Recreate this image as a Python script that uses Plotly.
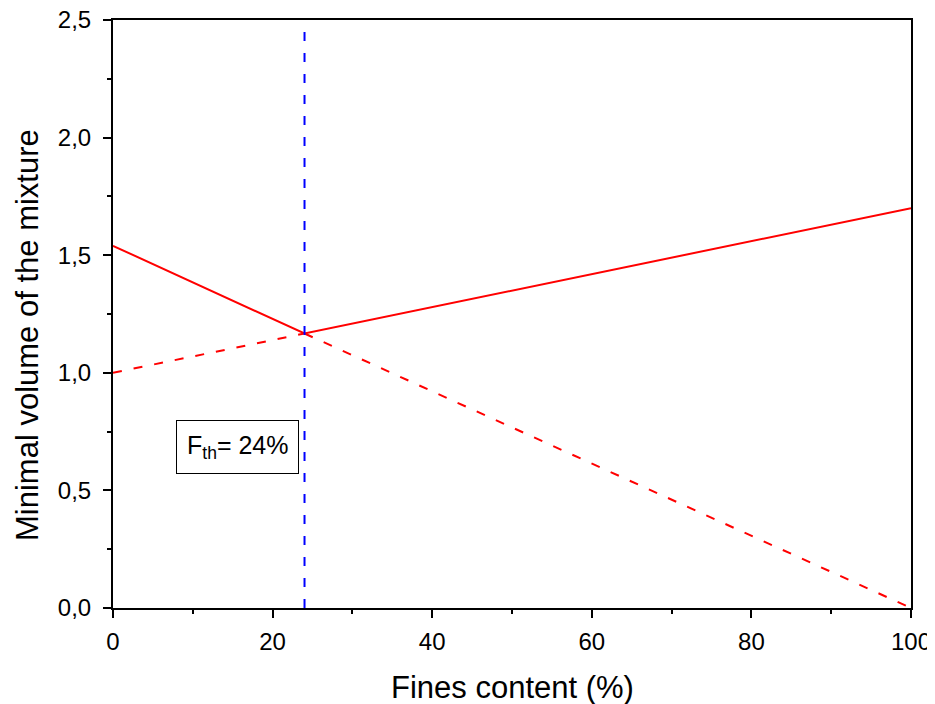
import plotly.graph_objects as go

fth = 24
x_solid = [0, 24, 100]
y_solid = [1.54, 1.167, 1.70]
x_dash_a = [0, 24]
y_dash_a = [1.0, 1.167]
x_dash_b = [24, 100]
y_dash_b = [1.167, 0.0]
x_vline = [24, 24]
y_vline = [0, 2.5]

FONT = "Liberation Sans, Arial"

fig = go.Figure()
fig.add_trace(go.Scatter(x=x_dash_a, y=y_dash_a, mode="lines",
                         line=dict(color="#ff0000", width=2, dash="9px,12px")))
fig.add_trace(go.Scatter(x=x_dash_b, y=y_dash_b, mode="lines",
                         line=dict(color="#ff0000", width=2, dash="9px,12px")))
fig.add_trace(go.Scatter(x=x_solid, y=y_solid, mode="lines",
                         line=dict(color="#ff0000", width=2)))
fig.add_trace(go.Scatter(x=x_vline, y=y_vline, mode="lines",
                         line=dict(color="#0000ff", width=2, dash="9px,12px")))

fig.add_annotation(x=15.6, y=0.685, xref="x", yref="y",
                   text="F<sub>th</sub>= 24%", showarrow=False,
                   font=dict(family=FONT, size=25, color="black"),
                   bordercolor="black", borderwidth=1, borderpad=10, bgcolor="white")

fig.add_annotation(x=0.5, y=-0.136, xref="paper", yref="paper",
                   text="Fines content (%)", showarrow=False,
                   xanchor="center", yanchor="middle",
                   font=dict(family=FONT, size=31, color="black"))
fig.add_annotation(x=-0.108, y=0.464, xref="paper", yref="paper",
                   text="Minimal volume of the mixture", showarrow=False,
                   textangle=-90, xanchor="center", yanchor="middle",
                   font=dict(family=FONT, size=31, color="black"))

axis_common = dict(showline=True, linecolor="black", linewidth=2, mirror=True,
                   ticks="outside", tickwidth=2, ticklen=8, tickcolor="black",
                   showgrid=False, zeroline=False, automargin=False,
                   ticklabeloverflow="allow",
                   tickfont=dict(family=FONT, size=24, color="black"))

fig.update_xaxes(range=[0, 100], dtick=20, tick0=0, ticklabelstandoff=3,
                 minor=dict(ticks="outside", ticklen=4, tickwidth=2, dtick=10, tickcolor="black", showgrid=False),
                 **axis_common)
fig.update_yaxes(range=[0, 2.5], dtick=0.5, tick0=0, tickformat=".1f", ticklabelstandoff=7,
                 minor=dict(ticks="outside", ticklen=4, tickwidth=2, dtick=0.25, tickcolor="black", showgrid=False),
                 **axis_common)

# page body has an 8px default margin, so the figure is shifted by 8px
fig.update_layout(width=927, height=696, showlegend=False,
                  separators=", ",
                  plot_bgcolor="white", paper_bgcolor="white",
                  margin=dict(l=105, r=24, t=12, b=96))

fig.write_html("out.html")
